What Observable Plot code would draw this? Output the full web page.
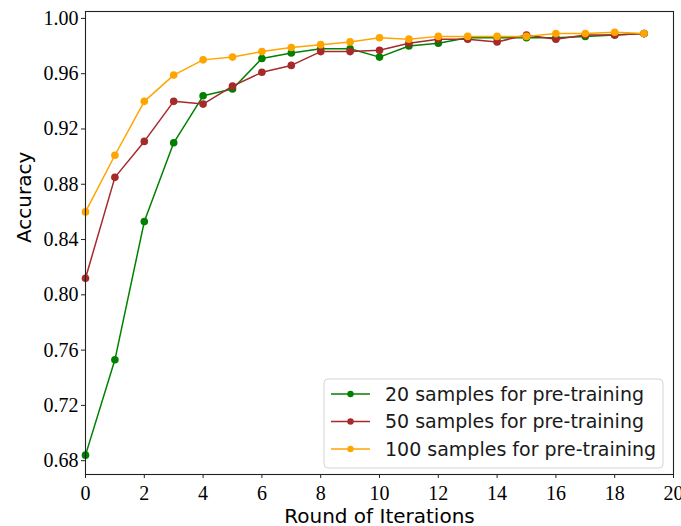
<!DOCTYPE html>
<html>
<head>
<meta charset="utf-8">
<script src="https://cdn.jsdelivr.net/npm/d3@7"></script>
<script src="https://cdn.jsdelivr.net/npm/@observablehq/plot@0.6"></script>
<style>
  body { margin: 0; background: #fff; }
  #chart { width: 681px; height: 526px; }
</style>
</head>
<body>
<div id="chart"></div>
<script>
// Accuracy per round of iterations, for three pre-training set sizes
const rounds = d3.range(20);
const seriesNames = [
  "20 samples for pre-training",
  "50 samples for pre-training",
  "100 samples for pre-training"
];
const acc20 = [0.684, 0.753, 0.853, 0.910, 0.944, 0.949, 0.971, 0.975, 0.978, 0.978,
               0.972, 0.980, 0.982, 0.986, 0.986, 0.986, 0.986, 0.987, 0.988, 0.989];
const acc50 = [0.812, 0.885, 0.911, 0.940, 0.938, 0.951, 0.961, 0.966, 0.976, 0.976,
               0.977, 0.982, 0.985, 0.985, 0.983, 0.988, 0.985, 0.988, 0.988, 0.989];
const acc100 = [0.860, 0.901, 0.940, 0.959, 0.970, 0.972, 0.976, 0.979, 0.981, 0.983,
                0.986, 0.985, 0.987, 0.987, 0.987, 0.987, 0.989, 0.989, 0.990, 0.989];
const seriesColors = ["green", "brown", "orange"];
const xTicks = [0, 2, 4, 6, 8, 10, 12, 14, 16, 18, 20];
const yTicks = [0.68, 0.72, 0.76, 0.80, 0.84, 0.88, 0.92, 0.96, 1.00];

const allSeries = [acc20, acc50, acc100];
const rowsFor = (vals, i) => vals.map((v, j) => ({round: rounds[j], acc: v, series: seriesNames[i]}));

const sans = "'DejaVu Sans', sans-serif";
const serif = "'Liberation Serif', 'Times New Roman', serif";

// one line + markers per series, drawn in order so later series sit on top
const seriesMarks = allSeries.flatMap((vals, i) => {
  const rows = rowsFor(vals, i);
  return [
    Plot.line(rows, {x: "round", y: "acc", stroke: "series", strokeWidth: 1.5}),
    Plot.dot(rows, {x: "round", y: "acc", fill: "series", r: 3.8})
  ];
});

const plot = Plot.plot({
  width: 681,
  height: 526,
  marginLeft: 85,
  marginRight: 8,
  marginTop: 11,
  marginBottom: 52,
  style: {background: "#fff", color: "#000", fontFamily: serif, fontSize: "20px", overflow: "visible"},
  x: {domain: [0, 20]},
  y: {domain: [0.670, 1.005]},
  color: {domain: seriesNames, range: seriesColors},
  marks: [
    Plot.axisX({ticks: xTicks, tickSize: 4, tickPadding: 7, label: null,
                fontFamily: serif, fontSize: 20, stroke: "#222"}),
    Plot.axisY({ticks: yTicks, tickFormat: ".2f", tickSize: 4, tickPadding: 3, label: null,
                fontFamily: serif, fontSize: 20, stroke: "#222"}),
    Plot.text(["Round of Iterations"], {frameAnchor: "bottom", dy: 48, fontFamily: sans,
                fontSize: 20, fill: "#000"}),
    Plot.text(["Accuracy"], {frameAnchor: "left", dx: -61, rotate: -90, fontFamily: sans,
                fontSize: 20, fill: "#000"}),
    ...seriesMarks,
    Plot.frame({stroke: "#222", strokeWidth: 1.1})
  ]
});

// legend box in the lower-right corner of the plot area
const color = plot.scale("color");
const svg = d3.select(plot);
const lg = svg.append("g").attr("transform", "translate(324,379)");
lg.append("rect")
  .attr("width", 339).attr("height", 89).attr("rx", 4)
  .attr("fill", "#fff").attr("fill-opacity", 0.85)
  .attr("stroke", "#d5d5d5").attr("stroke-width", 1);
seriesNames.forEach((name, i) => {
  const cy = 15 + i * 27.5;
  const c = color.apply(name);
  lg.append("line").attr("x1", 7).attr("x2", 46).attr("y1", cy).attr("y2", cy)
    .attr("stroke", c).attr("stroke-width", 1.5);
  lg.append("circle").attr("cx", 26.5).attr("cy", cy).attr("r", 3.2).attr("fill", c);
  lg.append("text").attr("x", 61).attr("y", cy).attr("dy", "0.35em")
    .attr("text-anchor", "start")
    .attr("font-family", sans).attr("font-size", 19).attr("fill", "#1a1a1a")
    .text(name);
});

document.getElementById("chart").appendChild(plot);
</script>
</body>
</html>
